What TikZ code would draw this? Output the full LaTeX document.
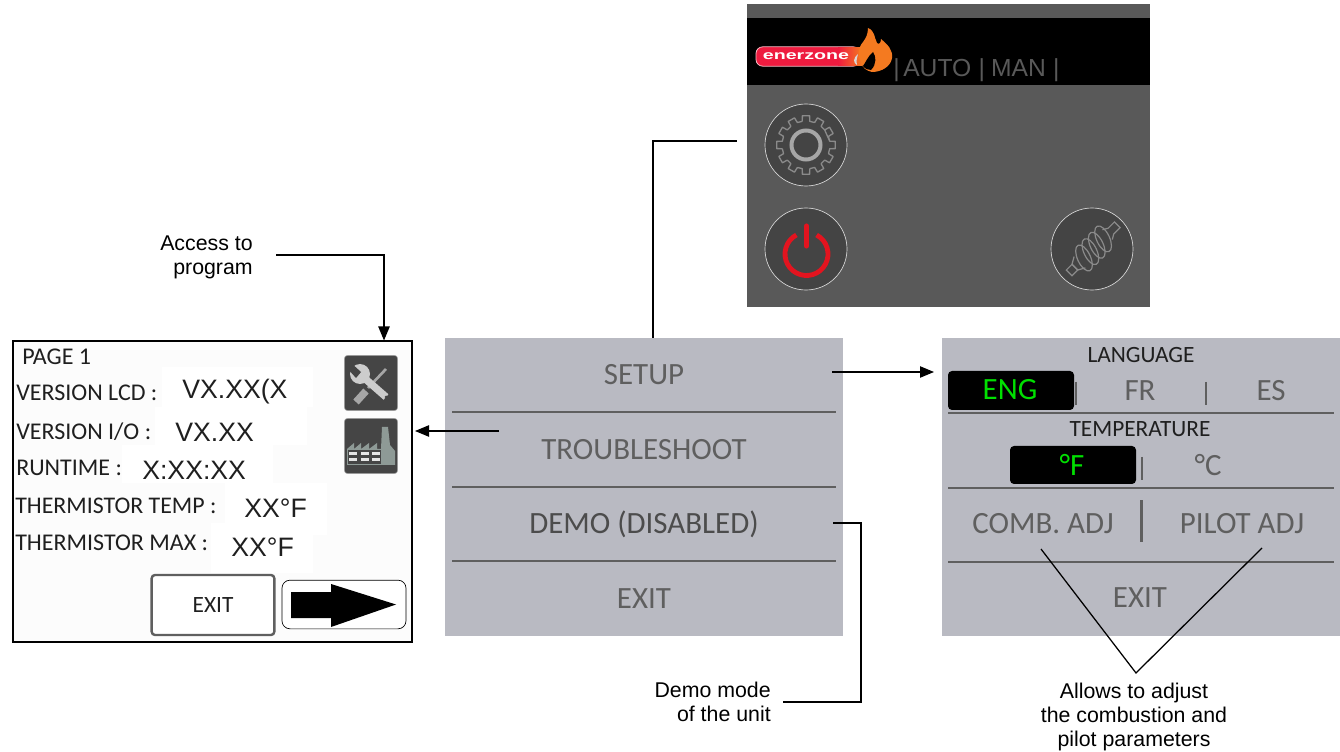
\documentclass[tikz,border=0pt]{standalone}
\usepackage{fontspec}
\setmainfont{Liberation Sans}
\newfontfamily\scr{Carlito}
\usetikzlibrary{arrows.meta}
\definecolor{dark}{HTML}{595959}
\definecolor{circ}{HTML}{444444}
\definecolor{pane}{HTML}{B9BAC2}
\definecolor{txtg}{HTML}{5F5F5F}
\definecolor{lng}{HTML}{00E000}
\definecolor{redp}{HTML}{E3141F}
\definecolor{pill}{HTML}{EE1B3F}
\definecolor{sil}{HTML}{A6A6A6}
\definecolor{gearc}{HTML}{8A8A8A}
\definecolor{iconbg}{HTML}{454545}
\definecolor{facg}{HTML}{8E9A96}
\definecolor{flame}{HTML}{F47A20}
\tikzset{
  x=0.75pt,y=-0.75pt,
  panel/.style={fill=pane,draw=none,inner sep=0pt,minimum width=298.5pt,minimum height=223.5pt},
  menu/.style={font=\scr\fontsize{23.2}{23.2}\selectfont,text=txtg,inner sep=0pt},
  head/.style={font=\scr\fontsize{17.5}{17.5}\selectfont,text=black!88,inner sep=0pt},
  sep/.style={draw=txtg,line width=1.4pt},
  lab/.style={font=\scr\fontsize{18}{18}\selectfont,text=black!88,inner sep=0pt,anchor=west},
  val/.style={font=\fontsize{20}{20}\selectfont,text=black!88,inner sep=0pt,anchor=west},
  patch/.style={fill=white,draw=none},
  note/.style={font=\fontsize{16}{18}\selectfont,inner sep=0pt,align=center},
  link/.style={draw=black,line width=0.95pt},
  arrow/.style={link,-{Triangle[length=10.5pt,width=8.5pt]}},
  rbtn/.style={circle,draw=white!85!black,line width=0.5pt,fill=circ,minimum size=61.5pt,inner sep=0pt},
  sel/.style={fill=black,rounded corners=3pt,inner sep=0pt},
  icon/.style={fill=iconbg,draw=sil,line width=0.4pt,rounded corners=2.5pt,minimum width=40pt,minimum height=41.5pt,inner sep=0pt},
}
\begin{document}
\begin{tikzpicture}
\useasboundingbox (0,0) rectangle (1340,752);
\fill[white] (0,0) rectangle (1340,752);

% ---- top screen
\node[fill=dark,inner sep=0pt,minimum width=302.25pt,minimum height=227.25pt] (home) at (948.5,155.5) {};
\fill[black] (747,18) rectangle (1150,85);
\node[fill=pill,draw=white!70!pill,line width=0.6pt,rounded corners=5pt,minimum width=78pt,minimum height=14.5pt,inner sep=0pt] (logo) at (808,56.5) {};
\shade[left color=pill,right color=flame] (838,47.6) rectangle (862,65.4);
\node[font=\fontsize{9.5}{9.5}\selectfont\bfseries,text=white,inner sep=0pt,xscale=1.55] (brand) at (806,56) {enerzone};
\fill[flame] (868,28) .. controls (875,31) and (874,37) .. (877,43) .. controls (879,45) and (881,43) .. (881,39) .. controls (888,45) and (893,50) .. (892,58) .. controls (891,66) and (882,72) .. (872,72) .. controls (867,71) and (862,68) .. (861,62) .. controls (857,56) and (858,48) .. (863,42) .. controls (866,38) and (868,34) .. (868,28) -- cycle;
\fill[black] (863,66) .. controls (866,62) and (868,56) .. (873,52) .. controls (876,56) and (877,64) .. (871,70) .. controls (868,70) and (865,69) .. (863,66) -- cycle;
\fill[white!85!black] (858,54) .. controls (853,58) and (853,63) .. (857,65) .. controls (856,61) and (857,58) .. (858,54) -- cycle;
\node[font=\fontsize{18.5}{18.5}\selectfont,text=dark,inner sep=0pt,anchor=west] (modes) at (893,70) {|\hspace{2.7pt}AUTO\hspace{5.5pt}|\hspace{4.5pt}MAN\hspace{5.5pt}|};

\node[rbtn] (gear) at (806,145) {};
\begin{scope}[shift={(806,145)}]
  \draw[gearc,line width=1pt,line join=round]
    \foreach \a in {0,30,...,330} {
      ({\a-9}:24) -- ({\a-7}:29.5) -- ({\a+7}:29.5) -- ({\a+9}:24) -- ({\a+21}:24)
    } -- cycle;
  \draw[sil,line width=3pt] (0,0) circle (14.5);
\end{scope}

\node[rbtn] (power) at (806,249) {};
\draw[redp,line width=3.6pt] (806.5,254) ++(298:21.5) arc[start angle=298,end angle=602,radius=21.5];
\draw[redp,line width=3.8pt,line cap=round] (806.5,226) -- (806.5,246);

\node[rbtn] (screw) at (1092,249) {};
\begin{scope}[shift={(1092.5,249.5)},rotate=45]
  \foreach \p in {-12,-3,6,15}
    \draw[gearc,line width=0.9pt,rotate around={-20:(\p,0)}] (\p,0) ellipse (6.5 and 14);
  \draw[gearc,line width=0.9pt] (21,-7) -- (26,-4) -- (35,-4) -- (35,4) -- (26,4) -- (21,7);
  \draw[gearc,line width=0.9pt] (-18,-8) -- (-25,-4) -- (-25,4) -- (-18,8);
  \draw[gearc,line width=0.9pt] (-25,-4) rectangle (-33,4);
\end{scope}

% ---- left screen
\node[fill=white!99!black,draw=black,line width=1.5pt,inner sep=0pt,minimum width=299.25pt,minimum height=225pt] (info) at (212,491.5) {};
\path[patch] (162,367) rectangle (313,407);
\path[patch] (155,407) rectangle (307,445);
\path[patch] (122,445) rectangle (273,483);
\path[patch] (225,483) rectangle (327,535);
\path[patch] (211,523) rectangle (313,573);
\node[lab] (page) at (22,357) {PAGE 1};
\node[lab] (lcd) at (16,393) {VERSION LCD :};
\node[lab] (io) at (16,432) {VERSION I/O :};
\node[lab] (run) at (16,468) {RUNTIME :};
\node[lab,font=\scr\fontsize{17.9}{17.9}\selectfont] (tt) at (15,506) {THERMISTOR TEMP :};
\node[lab] (tm) at (15,543) {THERMISTOR MAX :};
\node[val] (vlcd) at (182,392) {VX.XX(X};
\node[val] (vio) at (175,432) {VX.XX};
\node[val] (vrun) at (142,470) {X:XX:XX};
\node[val] (vtt) at (244,508) {XX°F};
\node[val] (vtm) at (231,547) {XX°F};

% tools icon
\node[icon] (tools) at (371,383) {};
\draw[sil,line width=2pt] (386,369) -- (368,388);
\draw[sil,line width=5.5pt] (366,391) -- (356,402);
\draw[white!80!black,line width=5.5pt] (362,376) -- (386,397);
\fill[white!80!black] (360,374) circle (10);
\fill[iconbg] (350,362) -- (361,372) -- (356,378) -- (347,368) -- cycle;
\fill[iconbg] (386,397) circle (1.5);

% factory icon
\node[icon] (fac) at (371,446) {};
\fill[facg] (347,465) -- (347,449) -- (354,443) -- (354,449) -- (361,443) -- (361,449) -- (369,443) -- (369,449) -- (377,443) -- (377,449) -- (381,449) -- (382,427) -- (388,427) -- (390,445) -- (395,451) -- (395,465) -- cycle;
\fill[iconbg] (348,450) rectangle (381,464.5);
\foreach \cx in {353,364.5,376} \foreach \cy in {453.5,459.5}
  \fill[white!90!black] (\cx-4,\cy-1.7) rectangle (\cx+4,\cy+1.7);

\node[draw=txtg,line width=1.8pt,rounded corners=2.5pt,fill=white,inner sep=0pt,minimum width=92pt,minimum height=45pt,font=\scr\fontsize{17.5}{17.5}\selectfont,text=black!88] (exitb) at (213,605) {EXIT};
\node[draw=black,line width=0.5pt,rounded corners=6pt,fill=white,inner sep=0pt,minimum width=93pt,minimum height=36.5pt] (next) at (344,604.5) {};
\fill[black] (291,592) -- (331,592) -- (331,584) -- (396,604.5) -- (331,627) -- (331,618) -- (291,618) -- cycle;

% ---- middle menu
\node[panel] (menu) at (644,487) {};
\path[sep] (452,412) -- (836,412) (452,487) -- (836,487) (452,561) -- (836,561);
\node[menu] (setup) at (644,375) {SETUP};
\node[menu] (trouble) at (644,450) {TROUBLESHOOT};
\node[menu,text=black!70] (demo) at (644,524) {DEMO (DISABLED)};
\node[menu] (mexit) at (644,599) {EXIT};

% ---- right menu
\node[panel] (setpane) at (1141,487) {};
\path[sep] (948,413) -- (1334,413) (948,488) -- (1334,488) (948,562) -- (1334,562);
\node[head] (lang) at (1141,355) {LANGUAGE};
\path[sel] (948,371) rectangle (1074,410);
\node[menu,text=lng] (eng) at (1010,390) {ENG};
\node[menu] (fr) at (1140,391) {FR};
\node[menu] (es) at (1271,391) {ES};
\path[sep] (1076,382) -- (1076,405) (1206,382) -- (1206,405);
\node[head] (temp) at (1140,429) {TEMPERATURE};
\path[sel] (1010,446) rectangle (1136,484);
\node[menu,text=lng] (df) at (1072,465) {°F};
\node[menu] (dc) at (1208,465) {°C};
\path[sep] (1142,457) -- (1142,480);
\node[menu] (comb) at (1043,524) {COMB. ADJ};
\node[menu] (pilot) at (1242,524) {PILOT ADJ};
\path[sep,line width=1.8pt] (1141.5,500) -- (1141.5,542);
\node[menu] (sexit) at (1140,598) {EXIT};

% ---- notes
\node[note,align=right,anchor=east] (access) at (253,257) {Access to\\program};
\node[note,align=right,anchor=east] (demonote) at (771,702) {Demo mode\\of the unit};
\node[note] (adjnote) at (1134,716.5) {Allows to adjust\\the combustion and\\pilot parameters};

% ---- connectors
\coordinate (a1) at (276,255);
\coordinate (a2) at (384,255);
\draw[arrow] (a1) -- (a2) -- (a2 |- info.north);
\coordinate (b2) at (653,141);
\coordinate (b3) at (737,141);
\draw[link] (b2 |- menu.north) -- (b2) -- (b3);
\coordinate (c1) at (832,372);
\coordinate (c2) at (934,372);
\draw[arrow] (c1) -- (c2);
\coordinate (d1) at (499,431);
\coordinate (d2) at (415,431);
\draw[arrow] (d1) -- (d2);
\coordinate (e1) at (833,523);
\coordinate (e2) at (861,523);
\coordinate (e3) at (861,702);
\coordinate (e4) at (783,702);
\draw[link] (e1) -- (e2) -- (e3) -- (e4);
\coordinate (f1) at (1041,549);
\coordinate (f2) at (1136,673);
\coordinate (f3) at (1262,548);
\draw[link] (f1) -- (f2) -- (f3);
\end{tikzpicture}
\end{document}
